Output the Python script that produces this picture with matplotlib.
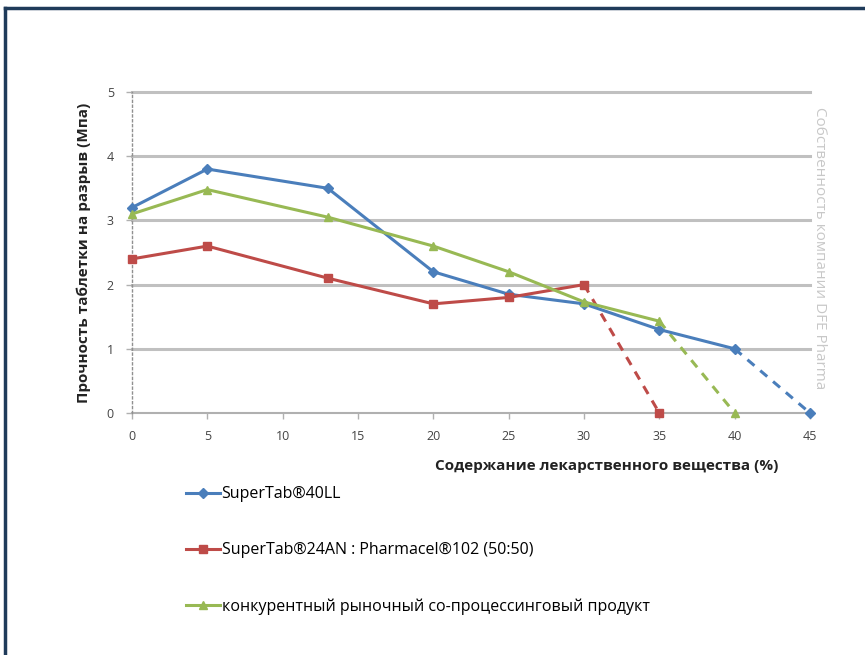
import matplotlib.pyplot as plt
from matplotlib.lines import Line2D

plt.rcParams['font.family'] = ['Open Sans', 'DejaVu Sans']

# drug load (%) and tensile strength (MPa)
x_blue = [0, 5, 13, 20, 25, 30, 35, 40]
y_blue = [3.2, 3.8, 3.5, 2.2, 1.85, 1.7, 1.3, 1.0]
x_blue_ext = [40, 45]
y_blue_ext = [1.0, 0]

x_red = [0, 5, 13, 20, 25, 30]
y_red = [2.4, 2.6, 2.1, 1.7, 1.8, 2.0]
x_red_ext = [30, 35]
y_red_ext = [2.0, 0]

x_green = [0, 5, 13, 20, 25, 30, 35]
y_green = [3.1, 3.48, 3.05, 2.6, 2.2, 1.73, 1.43]
x_green_ext = [35, 40]
y_green_ext = [1.43, 0]

labels = ['SuperTab®40LL',
          'SuperTab®24AN : Pharmacel®102 (50:50)',
          'конкурентный рыночный со-процессинговый продукт']
xticks = [0, 5, 10, 15, 20, 25, 30, 35, 40, 45]
yticks = [0, 1, 2, 3, 4, 5]

blue = '#4a7ebb'
red = '#be4b48'
green = '#98b954'

fig = plt.figure(figsize=(8.65, 6.55), dpi=100)
W, H = 865, 655

# frame of the picture (top and left edges)
fig.add_artist(Line2D([5 / W, 5 / W], [0, 1 - 8 / H], transform=fig.transFigure,
                      color='#1f3b5a', lw=2.5))
fig.add_artist(Line2D([5 / W, 1], [1 - 8 / H, 1 - 8 / H], transform=fig.transFigure,
                      color='#1f3b5a', lw=2.5))

ax = fig.add_axes([132 / W, 242 / H, 678 / W, 321 / H])

for v in yticks[1:]:
    ax.axhline(v, color='#c0c0c0', lw=2.2, zorder=1, clip_on=False)
ax.axhline(0, color='#b0b0b0', lw=1.5, zorder=1, clip_on=False)

ax.plot(x_blue_ext, y_blue_ext, color=blue, lw=2.2, ls=(0, (3, 2.5)), marker='D',
        markersize=5, markevery=[1], clip_on=False, zorder=3)
ax.plot(x_red_ext, y_red_ext, color=red, lw=2.2, ls=(0, (3, 2.5)), marker='s',
        markersize=6, markevery=[1], clip_on=False, zorder=3)
ax.plot(x_green_ext, y_green_ext, color=green, lw=2.2, ls=(0, (3, 2.5)), marker='^',
        markersize=6, markevery=[1], clip_on=False, zorder=3)

l1, = ax.plot(x_blue, y_blue, color=blue, lw=2.2, marker='D', markersize=5,
              clip_on=False, zorder=4)
l2, = ax.plot(x_red, y_red, color=red, lw=2.2, marker='s', markersize=6,
              clip_on=False, zorder=4)
l3, = ax.plot(x_green, y_green, color=green, lw=2.2, marker='^', markersize=6,
              clip_on=False, zorder=4)

ax.set_xlim(0, 45)
ax.set_ylim(0, 5)
ax.set_xticks(xticks)
ax.set_yticks(yticks)
for s in ['top', 'right', 'bottom']:
    ax.spines[s].set_visible(False)
ax.spines['left'].set_color('#909090')
ax.spines['left'].set_linestyle((0, (1.5, 2)))
ax.spines['left'].set_linewidth(1)
ax.tick_params(axis='both', colors='#b0b0b0', labelcolor='#444444', labelsize=9,
               length=4, width=1)
ax.tick_params(axis='y', pad=9)
ax.tick_params(axis='x', pad=8)

ax.set_ylabel('Прочность таблетки на разрыв (Мпа)', fontsize=11, fontweight='bold',
              color='#222222', labelpad=11)
fig.text(607 / W, 1 - 466 / H, 'Содержание лекарственного вещества (%)', fontsize=11,
         fontweight='bold', color='#222222', ha='center', va='center')

fig.text(820 / W, 1 - 248 / H, 'Собственность компании DFE Pharma', fontsize=11,
         color='#c8c8c8', rotation=-90, ha='center', va='center')

fig.legend([l1, l2, l3], labels, loc='upper left', bbox_to_anchor=(180 / W, 1 - 480 / H),
           frameon=False, fontsize=11.5, labelspacing=2.5, handlelength=2.1,
           handletextpad=0.1, borderaxespad=0)

fig.savefig('out.png', dpi=100, facecolor='white')
